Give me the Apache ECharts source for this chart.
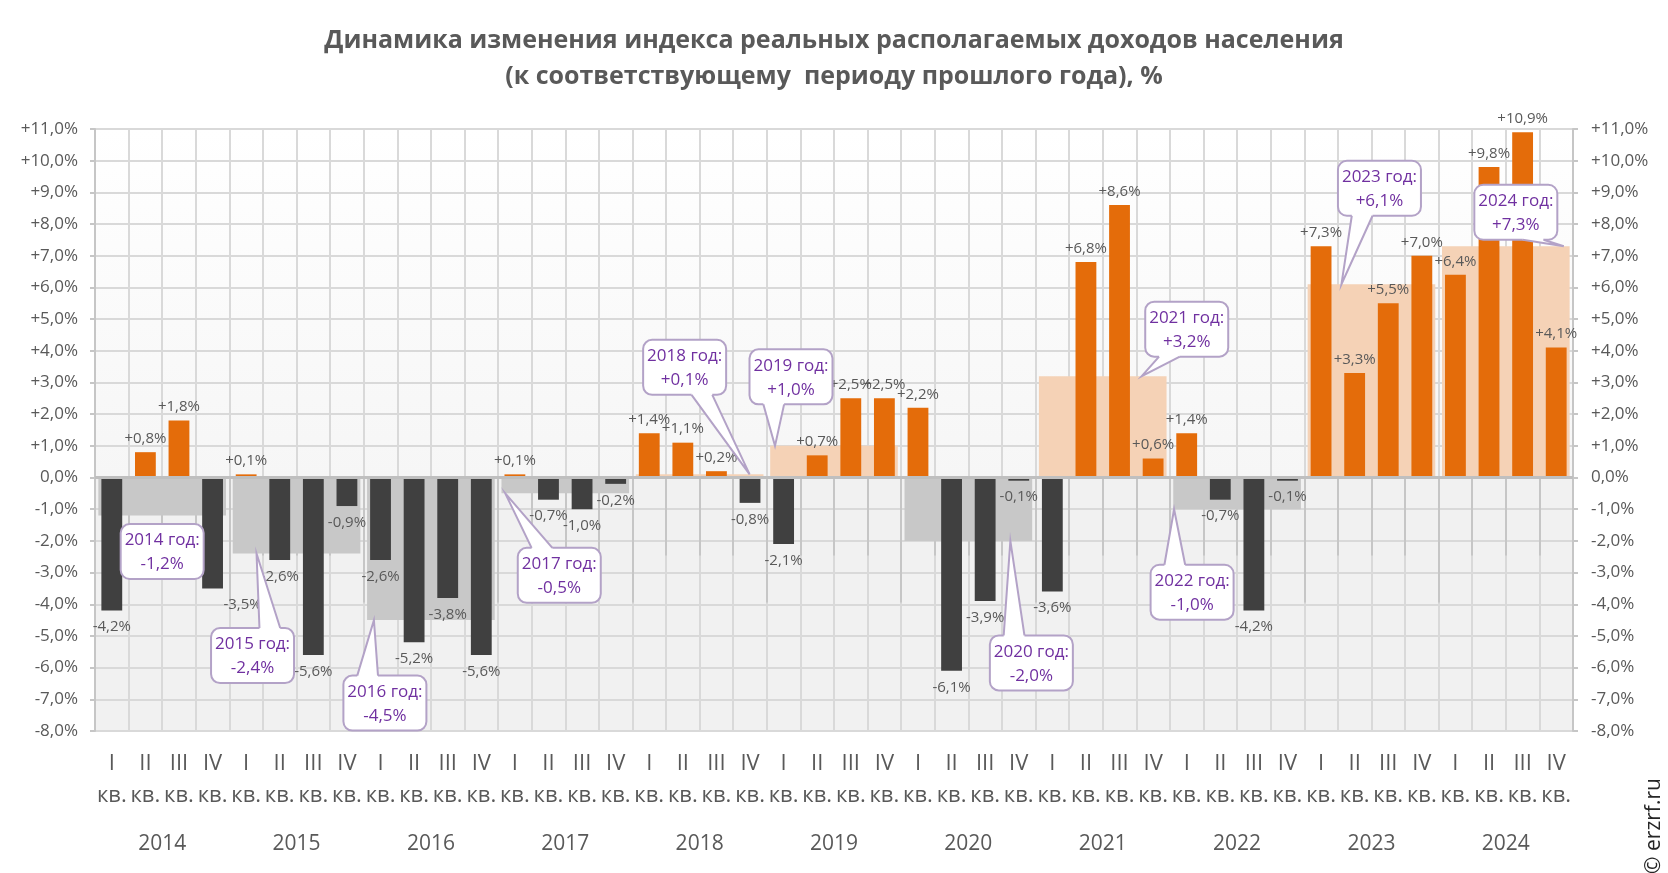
<!DOCTYPE html>
<html>
<head>
<meta charset="utf-8">
<script src="https://cdn.jsdelivr.net/npm/echarts@6/dist/echarts.min.js"></script>
<style>
html,body{margin:0;padding:0;background:#ffffff;}
#chart{width:1668px;height:873px;}
</style>
</head>
<body>
<div id="chart"></div>
<script>
// ---------- DATA ----------
const titleLines = [
  'Динамика изменения индекса реальных располагаемых доходов населения',
  '(к соответствующему  периоду прошлого года), %'
];
const years = ['2014','2015','2016','2017','2018','2019','2020','2021','2022','2023','2024'];
const quarterNames = ['I','II','III','IV'];
const quarterSuffix = 'кв.';
const yearWord = 'год:';
const copyrightText = '© erzrf.ru';

// quarterly change, % (to same quarter of previous year)
const quarterly = [
  -4.2,  0.8,  1.8, -3.5,   // 2014
   0.1, -2.6, -5.6, -0.9,   // 2015
  -2.6, -5.2, -3.8, -5.6,   // 2016
   0.1, -0.7, -1.0, -0.2,   // 2017
   1.4,  1.1,  0.2, -0.8,   // 2018
  -2.1,  0.7,  2.5,  2.5,   // 2019
   2.2, -6.1, -3.9, -0.1,   // 2020
  -3.6,  6.8,  8.6,  0.6,   // 2021
   1.4, -0.7, -4.2, -0.1,   // 2022
   7.3,  3.3,  5.5,  7.0,   // 2023
   6.4,  9.8, 10.9,  4.1    // 2024
];
// annual change, %
const annual = [-1.2, -2.4, -4.5, -0.5, 0.1, 1.0, -2.0, 3.2, -1.0, 6.1, 7.3];

const yMin = -8, yMax = 11, yStep = 1;

// ---------- STYLE / LAYOUT ----------
const FONT = "'Open Sans', 'Noto Sans', 'DejaVu Sans', sans-serif";
const C_POS = '#E46C0A', C_NEG = '#404040';
const C_POS_Y = '#F5D2B6', C_NEG_Y = '#C8C8C8';
const C_TEXT = '#595959', C_GRID = '#D9D9D9', C_AXIS = '#C6C6C6';
const C_CALL_BORDER = '#B3A2C7', C_CALL_TEXT = '#7030A0';
const CALL_W = 83, CALL_H = 55;
// per-year callout layout: [tip dx from year centre, box dx from tip, box dy from tip, has pointer]
const calloutLayout = [
  [0, 0, 36, false],
  [-40, -4, 102, true],
  [-57, 11, 83, true],
  [-60, 54, 82, true],
  [50, -65, -107, true],
  [-59, 16, -69, true],
  [42, 21, 122, true],
  [39, 45, -47, true],
  [-63, 18, 83, true],
  [-30, 38, -96, true],
  [58, -48, -34, true]
];
// label nudges (pixels) by quarter index
const labelShift = { 3: [30, 0] };

// ---------- HELPERS ----------
function fmtPct(v) {
  const s = Math.abs(v).toFixed(1).replace('.', ',');
  if (v > 0) return '+' + s + '%';
  if (v < 0) return '-' + s + '%';
  return s + '%';
}

const quarterIds = [];
years.forEach(y => quarterNames.forEach(q => quarterIds.push(y + '-' + q)));

const quarterData = quarterly.map((v, i) => {
  const lbl = {
    position: v >= 0 ? 'top' : 'bottom',
    distance: v >= 0 ? 6 : 9
  };
  if (labelShift[i]) lbl.offset = labelShift[i];
  return { value: v, itemStyle: { color: v >= 0 ? C_POS : C_NEG }, label: lbl };
});
const annualData = annual.map(v => ({ value: v, itemStyle: { color: v >= 0 ? C_POS_Y : C_NEG_Y } }));
const calloutData = annual.map((v, i) => [i, v]);

function renderCallout(params, api) {
  const i = params.dataIndex;
  const L = calloutLayout[i];
  const p = api.coord([api.value(0), api.value(1)]);
  const tip = [p[0] + L[0], p[1]];
  const cx = tip[0] + L[1], cy = tip[1] + L[2];
  const w = CALL_W, h = CALL_H;
  const x0 = cx - w / 2, y0 = cy - h / 2;
  const children = [{
    type: 'rect',
    shape: { x: x0, y: y0, width: w, height: h, r: 9 },
    style: { fill: '#ffffff', stroke: C_CALL_BORDER, lineWidth: 2 }
  }];
  if (L[3]) {
    const dx = tip[0] - cx, dy = tip[1] - cy;
    let b1, b2, i1, i2;
    if (Math.abs(dy) - Math.abs(dx * h / w) > 0) {
      const g1 = dx > 0 ? 7 : 2, g2 = dx > 0 ? 10 : 5;
      const ey = dy < 0 ? y0 : y0 + h;
      const s = dy < 0 ? 3 : -3;
      b1 = [x0 + w * g1 / 12, ey]; b2 = [x0 + w * g2 / 12, ey];
      i1 = [b1[0], ey + s]; i2 = [b2[0], ey + s];
    } else {
      const g1 = dy > 0 ? 7 : 2, g2 = dy > 0 ? 10 : 5;
      const ex = dx < 0 ? x0 : x0 + w;
      const s = dx < 0 ? 3 : -3;
      b1 = [ex, y0 + h * g1 / 12]; b2 = [ex, y0 + h * g2 / 12];
      i1 = [ex + s, b1[1]]; i2 = [ex + s, b2[1]];
    }
    children.push({ type: 'polygon', shape: { points: [i1, b1, tip, b2, i2] }, style: { fill: '#ffffff', stroke: null } });
    children.push({ type: 'polyline', shape: { points: [b1, tip, b2] }, style: { fill: null, stroke: C_CALL_BORDER, lineWidth: 2 } });
  }
  children.push({
    type: 'text',
    style: {
      text: years[i] + ' ' + yearWord + '\n' + fmtPct(annual[i]),
      x: cx, y: cy + 1, align: 'center', verticalAlign: 'middle',
      fill: C_CALL_TEXT, fontSize: 17, fontFamily: FONT, lineHeight: 24
    }
  });
  return { type: 'group', children: children };
}

const yAxisCommon = {
  type: 'value', min: yMin, max: yMax, interval: yStep,
  axisLine: { show: true, lineStyle: { color: C_AXIS, width: 2 } },
  axisTick: { show: true, length: 5, lineStyle: { color: C_AXIS, width: 2 } },
  axisLabel: { color: C_TEXT, fontSize: 17, fontFamily: FONT, formatter: v => fmtPct(v) }
};

const chart = echarts.init(document.getElementById('chart'), null, { renderer: 'canvas' });
chart.setOption({
  animation: false,
  backgroundColor: '#ffffff',
  title: {
    text: titleLines.join('\n'),
    left: 'center', top: 23, padding: 0,
    textStyle: { color: C_TEXT, fontSize: 25, fontWeight: 'bold', fontFamily: FONT, lineHeight: 36 }
  },
  grid: {
    left: 95, right: 95, top: 129, bottom: 142, show: true, borderWidth: 0,
    backgroundColor: new echarts.graphic.LinearGradient(0, 0, 0, 1, [
      { offset: 0, color: '#ffffff' },
      { offset: yMax / (yMax - yMin) - 0.001, color: '#f6f6f6' },
      { offset: yMax / (yMax - yMin), color: '#f1f1f1' },
      { offset: 1, color: '#f1f1f1' }
    ])
  },
  xAxis: [
    {
      type: 'category', data: quarterIds, position: 'bottom', boundaryGap: true,
      axisLine: { show: false },
      axisTick: { show: true, interval: 0, length: 78, lineStyle: { color: C_AXIS, width: 2 } },
      axisLabel: {
        interval: 0, margin: 17, color: C_TEXT, fontSize: 22, fontFamily: FONT, lineHeight: 32,
        formatter: (val, idx) => quarterNames[idx % 4] + '\n' + quarterSuffix
      },
      splitLine: { show: true, interval: 0, lineStyle: { color: C_GRID, width: 2 } }
    },
    {
      type: 'category', data: years, position: 'bottom', boundaryGap: true,
      axisLine: { show: false },
      axisTick: { show: true, interval: 0, length: 125, lineStyle: { color: C_AXIS, width: 2 } },
      axisLabel: { interval: 0, margin: 103, color: C_TEXT, fontSize: 21, fontFamily: FONT },
      splitLine: { show: false }
    }
  ],
  yAxis: [
    Object.assign({}, yAxisCommon, {
      position: 'left',
      axisLabel: Object.assign({}, yAxisCommon.axisLabel, { margin: 17 }),
      splitLine: { show: true, lineStyle: { color: C_GRID, width: 2 } }
    }),
    Object.assign({}, yAxisCommon, {
      position: 'right',
      axisLabel: Object.assign({}, yAxisCommon.axisLabel, { margin: 18 }),
      splitLine: { show: false }
    })
  ],
  graphic: [{
    type: 'text', x: 1654, y: 826, rotation: Math.PI / 2,
    style: { text: copyrightText, fill: '#262626', fontSize: 21, fontFamily: FONT, align: 'center', verticalAlign: 'middle' }
  }],
  series: [
    {
      name: 'annual', type: 'bar', xAxisIndex: 1, yAxisIndex: 0,
      barWidth: '95%', data: annualData, z: 1, silent: true
    },
    {
      name: 'quarterly', type: 'bar', xAxisIndex: 0, yAxisIndex: 0,
      barWidth: '62%', data: quarterData, z: 3,
      label: {
        show: true, color: C_TEXT, fontSize: 15, fontFamily: FONT,
        formatter: p => fmtPct(p.value)
      },
      markLine: {
        silent: true, symbol: ['none', 'none'], label: { show: false },
        lineStyle: { color: '#BFBFBF', width: 3, type: 'solid' },
        data: [{ yAxis: 0 }]
      }
    },
    {
      name: 'callouts', type: 'custom', xAxisIndex: 1, yAxisIndex: 0,
      data: calloutData, renderItem: renderCallout, z: 10, clip: false, silent: true
    }
  ]
});
</script>
</body>
</html>
